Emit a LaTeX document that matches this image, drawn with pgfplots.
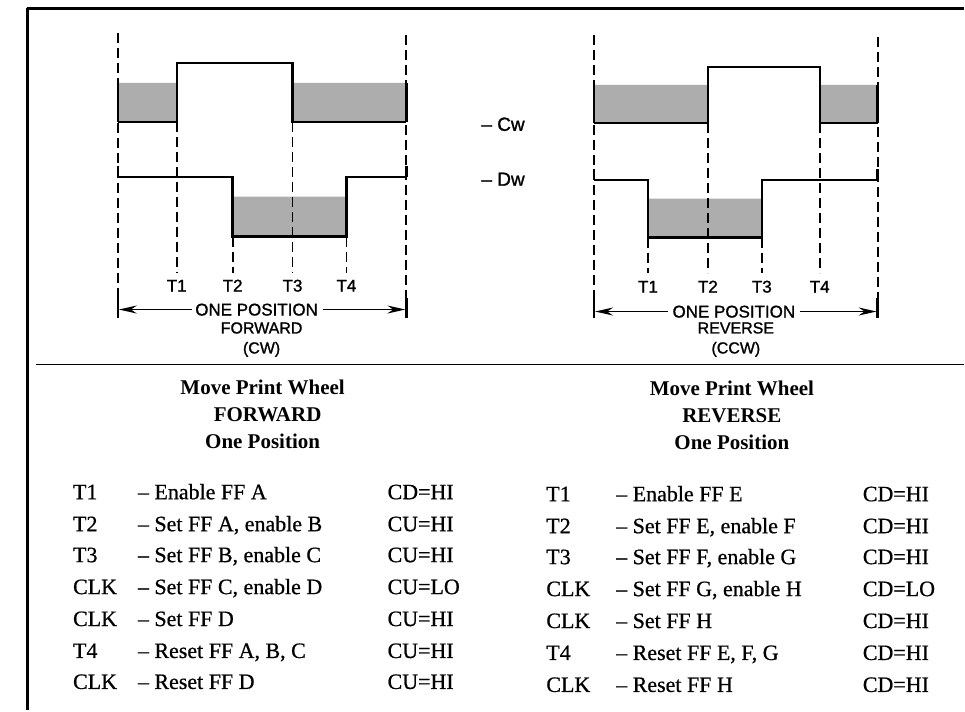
\documentclass[border=0pt]{standalone}
\usepackage{fontspec}
\setmainfont{Liberation Serif}
\newfontfamily\lett[FakeBold=1.2]{Liberation Sans}
\newfontfamily\rowf[FakeBold=0.7]{Liberation Serif}
\usepackage{pgfplots}
\pgfplotsset{compat=1.18}
\usetikzlibrary{arrows.meta}
\begin{document}
\begin{tikzpicture}[
  lt/.style={font=\lett\fontsize{17}{17}\selectfont},
  ls/.style={font=\lett\fontsize{16}{16}\selectfont},
  rw/.style={font=\rowf\fontsize{22}{22}\selectfont,anchor=base west,inner sep=0pt},
  tt/.style={font=\bfseries\fontsize{21}{21}\selectfont,anchor=base}]
\begin{axis}[width=965pt,height=711pt,scale only axis,
  xmin=0,xmax=965,ymin=0,ymax=711,y dir=reverse,hide axis,clip=false,no markers,
  shade/.style={draw=none,fill=black!32,forget plot},
  wave/.style={black,line width=2.3pt,line join=miter,forget plot},
  edge/.style={black,line width=2.6pt,forget plot},
  dsh/.style={black,line width=1.9pt,dash pattern=on 10pt off 5pt,forget plot},
  arr/.style={black,line width=1.7pt,forget plot},
  frame/.style={black,line width=3pt,forget plot}]
% background
\addplot[draw=none,fill=white,forget plot] coordinates {(0,0) (965,0) (965,711) (0,711) (0,0)};
% frame
\addplot[frame] coordinates {(27,9) (965,9)};
\addplot[frame] coordinates {(28,8) (28,711)};
\addplot[black,line width=1.8pt,forget plot] coordinates {(36,365) (965,365)};
% ---- shading, left (forward)
\addplot[shade] coordinates {(118,83) (177,83) (177,122) (118,122) (118,83)};
\addplot[shade] coordinates {(293,83) (407,83) (407,122) (293,122) (293,83)};
\addplot[shade] coordinates {(233,197) (347,197) (347,237) (233,237) (233,197)};
% ---- shading, right (reverse)
\addplot[shade] coordinates {(595,85) (709,85) (709,123) (595,123) (595,85)};
\addplot[shade] coordinates {(821,85) (879,85) (879,123) (821,123) (821,85)};
\addplot[shade] coordinates {(649,199) (763,199) (763,238) (649,238) (649,199)};
% ---- dashed guide lines, left
\addplot[dsh] coordinates {(118,33) (118,300)};
\addplot[dsh] coordinates {(407,35) (407,300)};
\addplot[edge] coordinates {(118,298) (118,318)};
\addplot[edge] coordinates {(407,298) (407,318)};
\addplot[dsh] coordinates {(177,122) (177,273)};
\addplot[dsh] coordinates {(233,237) (233,273)};
\addplot[dsh] coordinates {(293,122) (293,273)};
\addplot[dsh] coordinates {(347,237) (347,273)};
% ---- dashed guide lines, right
\addplot[dsh] coordinates {(595,35) (595,300)};
\addplot[dsh] coordinates {(879,37) (879,300)};
\addplot[edge] coordinates {(595,298) (595,318)};
\addplot[edge] coordinates {(879,298) (879,318)};
\addplot[dsh] coordinates {(649,238) (649,273)};
\addplot[dsh] coordinates {(709,123) (709,273)};
\addplot[dsh] coordinates {(763,238) (763,273)};
\addplot[dsh] coordinates {(821,123) (821,273)};
% ---- waveforms, left
\addplot[wave] coordinates {(118,122) (177,122) (177,63) (293,63) (293,122) (407,122)};
\addplot[edge] coordinates {(118,83) (118,122)};
\addplot[edge] coordinates {(407,83) (407,122)};
\addplot[wave] coordinates {(118,177) (233,177) (233,237) (347,237) (347,177) (407,177)};
\addplot[edge] coordinates {(118,166) (118,177)};
\addplot[edge] coordinates {(407,166) (407,177)};
% ---- waveforms, right
\addplot[wave] coordinates {(595,123) (709,123) (709,67) (821,67) (821,123) (879,123)};
\addplot[edge] coordinates {(595,85) (595,123)};
\addplot[edge] coordinates {(879,85) (879,123)};
\addplot[wave] coordinates {(595,180) (649,180) (649,238) (763,238) (763,180) (879,180)};
\addplot[edge] coordinates {(595,169) (595,180)};
\addplot[edge] coordinates {(879,169) (879,180)};
% ---- arrows
\addplot[arr,-{Stealth[length=18pt,width=8pt]}] coordinates {(192,310) (119,310)};
\addplot[arr,-{Stealth[length=18pt,width=8pt]}] coordinates {(323,310) (406,310)};
\addplot[arr,-{Stealth[length=18pt,width=8pt]}] coordinates {(669,312) (596,312)};
\addplot[arr,-{Stealth[length=18pt,width=8pt]}] coordinates {(801,312) (878,312)};
% ---- lettering in diagram
\node[lt,anchor=base] at (axis cs:177,292) {T1};
\node[lt,anchor=base] at (axis cs:233,292) {T2};
\node[lt,anchor=base] at (axis cs:293,292) {T3};
\node[lt,anchor=base] at (axis cs:347,292) {T4};
\node[lt,anchor=base] at (axis cs:649,293) {T1};
\node[lt,anchor=base] at (axis cs:709,293) {T2};
\node[lt,anchor=base] at (axis cs:763,293) {T3};
\node[lt,anchor=base] at (axis cs:821,293) {T4};
\node[lt,anchor=base] at (axis cs:257,316) {ONE POSITION};
\node[ls,anchor=base] at (axis cs:262,334) {FORWARD};
\node[ls,anchor=base] at (axis cs:262,354) {(CW)};
\node[lt,anchor=base] at (axis cs:735,318) {ONE POSITION};
\node[ls,anchor=base] at (axis cs:737,334) {REVERSE};
\node[ls,anchor=base] at (axis cs:737,354) {(CCW)};
\node[lt,anchor=base west,inner sep=0pt,font=\lett\fontsize{19}{19}\selectfont] at (axis cs:482,131) {– Cw};
\node[lt,anchor=base west,inner sep=0pt,font=\lett\fontsize{19}{19}\selectfont] at (axis cs:482,186) {– Dw};
% ---- titles
\node[tt] at (axis cs:263,395) {Move Print Wheel};
\node[tt] at (axis cs:268,422) {FORWARD};
\node[tt] at (axis cs:263,449) {One Position};
\node[tt] at (axis cs:733,396) {Move Print Wheel};
\node[tt] at (axis cs:733,423) {REVERSE};
\node[tt] at (axis cs:733,450) {One Position};
% ---- left table
\node[rw] at (axis cs:73,500) {T1};
\node[rw] at (axis cs:73,532) {T2};
\node[rw] at (axis cs:73,563) {T3};
\node[rw] at (axis cs:73,595) {CLK};
\node[rw] at (axis cs:73,627) {CLK};
\node[rw] at (axis cs:73,659) {T4};
\node[rw] at (axis cs:73,690) {CLK};
\node[rw] at (axis cs:138,500) {– Enable FF A};
\node[rw] at (axis cs:138,532) {– Set FF A, enable B};
\node[rw] at (axis cs:138,563) {– Set FF B, enable C};
\node[rw] at (axis cs:138,595) {– Set FF C, enable D};
\node[rw] at (axis cs:138,627) {– Set FF D};
\node[rw] at (axis cs:138,659) {– Reset FF A, B, C};
\node[rw] at (axis cs:138,690) {– Reset FF D};
\node[rw] at (axis cs:388,500) {CD=HI};
\node[rw] at (axis cs:388,532) {CU=HI};
\node[rw] at (axis cs:388,563) {CU=HI};
\node[rw] at (axis cs:388,595) {CU=LO};
\node[rw] at (axis cs:388,627) {CU=HI};
\node[rw] at (axis cs:388,659) {CU=HI};
\node[rw] at (axis cs:388,690) {CU=HI};
% ---- right table
\node[rw] at (axis cs:547,502) {T1};
\node[rw] at (axis cs:547,534) {T2};
\node[rw] at (axis cs:547,565) {T3};
\node[rw] at (axis cs:547,597) {CLK};
\node[rw] at (axis cs:547,629) {CLK};
\node[rw] at (axis cs:547,661) {T4};
\node[rw] at (axis cs:547,693) {CLK};
\node[rw] at (axis cs:617,502) {– Enable FF E};
\node[rw] at (axis cs:617,534) {– Set FF E, enable F};
\node[rw] at (axis cs:617,565) {– Set FF F, enable G};
\node[rw] at (axis cs:617,597) {– Set FF G, enable H};
\node[rw] at (axis cs:617,629) {– Set FF H};
\node[rw] at (axis cs:617,661) {– Reset FF E, F, G};
\node[rw] at (axis cs:617,693) {– Reset FF H};
\node[rw] at (axis cs:864,502) {CD=HI};
\node[rw] at (axis cs:864,534) {CD=HI};
\node[rw] at (axis cs:864,565) {CD=HI};
\node[rw] at (axis cs:864,597) {CD=LO};
\node[rw] at (axis cs:864,629) {CD=HI};
\node[rw] at (axis cs:864,661) {CD=HI};
\node[rw] at (axis cs:864,693) {CD=HI};
\end{axis}
\end{tikzpicture}
\end{document}
